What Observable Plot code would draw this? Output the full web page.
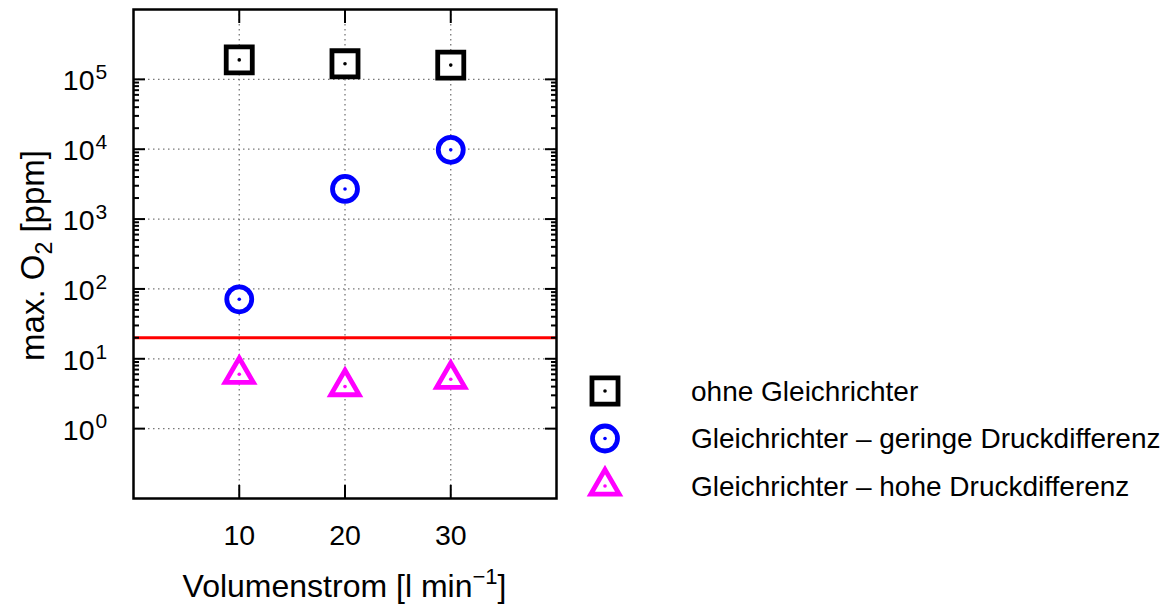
<!DOCTYPE html>
<html><head><meta charset="utf-8">
<script src="https://cdn.jsdelivr.net/npm/d3@7"></script>
<script src="https://cdn.jsdelivr.net/npm/@observablehq/plot@0.6"></script>
<style>
body{margin:0;background:#fff;}
#chart{position:relative;width:1172px;height:608px;}
</style></head><body><div id="chart"></div>
<script>
// ---- data ----
const volumenstrom = [10, 20, 30];
const ohneGleichrichter = [1.9e5, 1.67e5, 1.6e5];
const geringeDruckdifferenz = [71, 2.7e3, 9.8e3];
const hoheDruckdifferenz = [6.0, 4.0, 5.1];
const grenzwert = [20];
const seriesNames = ["ohne Gleichrichter", "Gleichrichter – geringe Druckdifferenz", "Gleichrichter – hohe Druckdifferenz"];
const seriesValues = [ohneGleichrichter, geringeDruckdifferenz, hoheDruckdifferenz];
const seriesColors = ["#000000", "#0000ff", "#ff00ff"];
const seriesSymbols = ["square", "circle", "triangle"];
const xTicks = [10, 20, 30];
const yTickExponents = [0, 1, 2, 3, 4, 5];
const yMinorMantissas = [2, 3, 4, 5, 6, 7, 8, 9];
const xTitle = ["Volumenstrom [l min", "−1", "]"];
const yTitle = ["max. O", "2", " [ppm]"];

// ---- derived tables ----
const rows = seriesNames.flatMap((name, i) =>
  volumenstrom.map((v, j) => ({series: name, x: v, y: seriesValues[i][j]})));
const yMajor = yTickExponents.map(e => 10 ** e);
const yMinor = yTickExponents.slice(0, -1).flatMap(e => yMinorMantissas.map(m => m * 10 ** e));

const symbolR = {square: 14.7, circle: 12.5, triangle: 10.5};
const font = "Liberation Sans, Arial, Helvetica, sans-serif";

const dotMarks = seriesNames.flatMap((name, i) => {
  const data = rows.filter(r => r.series === name);
  return [
    Plot.dot(data, {x: "x", y: "y", symbol: seriesSymbols[i], r: symbolR[seriesSymbols[i]],
      stroke: seriesColors[i], strokeWidth: 4.8, fill: "white"}),
    Plot.dot(data, {x: "x", y: "y", r: 1.8, fill: seriesColors[i], stroke: "none"})
  ];
});

const plot = Plot.plot({
  width: 1172, height: 608,
  marginLeft: 133, marginTop: 9, marginRight: 616, marginBottom: 110,
  style: {fontFamily: font, background: "white", color: "black"},
  x: {domain: [0, 40], label: null},
  y: {type: "log", domain: [0.1, 1e6], label: null},
  marks: [
    Plot.gridX(xTicks, {stroke: "#777", strokeOpacity: 1, strokeDasharray: "1.5,3.5", strokeWidth: 1.3}),
    Plot.gridY(yMajor, {stroke: "#777", strokeOpacity: 1, strokeDasharray: "1.5,3.5", strokeWidth: 1.3}),
    Plot.ruleY(grenzwert, {stroke: "#ff0000", strokeWidth: 3}),
    Plot.axisY(yMajor, {anchor: "left", tickSize: -12, strokeWidth: 2, tickFormat: () => "", label: null}),
    Plot.axisY(yMajor, {anchor: "right", tickSize: -12, strokeWidth: 2, tickFormat: () => "", label: null}),
    Plot.axisY(yMinor, {anchor: "left", tickSize: -6, strokeWidth: 2, tickFormat: () => "", label: null}),
    Plot.axisY(yMinor, {anchor: "right", tickSize: -6, strokeWidth: 2, tickFormat: () => "", label: null}),
    Plot.axisX(xTicks, {anchor: "bottom", tickSize: -13, strokeWidth: 2, tickFormat: () => "", label: null}),
    Plot.axisX(xTicks, {anchor: "top", tickSize: -13, strokeWidth: 2, tickFormat: () => "", label: null}),
    Plot.frame({stroke: "black", strokeWidth: 2.5}),
    ...dotMarks,
    Plot.text(yTickExponents, {y: e => 10 ** e, text: () => "10", frameAnchor: "left",
      textAnchor: "end", dx: -39, dy: 2, fontSize: 28.5, fill: "black"}),
    Plot.text(yTickExponents, {y: e => 10 ** e, text: e => String(e), frameAnchor: "left",
      textAnchor: "start", dx: -38, dy: -7, fontSize: 21, fill: "black"}),
    Plot.text(xTicks, {x: d => d, text: d => String(d), frameAnchor: "bottom",
      dy: 46, fontSize: 28.5, fill: "black"})
  ]
});

document.getElementById("chart").appendChild(plot);

// ---- titles ----
const svg = d3.select(plot);
const xs = plot.scale("x"), ys = plot.scale("y");
const xc = (xs.range[0] + xs.range[1]) / 2;
const yc = (ys.range[0] + ys.range[1]) / 2;

const xt = svg.append("text").attr("x", xc).attr("y", 597)
  .attr("text-anchor", "middle").attr("font-size", 32).attr("font-family", font).attr("fill", "black");
xt.append("tspan").text(xTitle[0]);
xt.append("tspan").attr("dy", -13).attr("font-size", 22).text(xTitle[1]);
xt.append("tspan").attr("dy", 13).text(xTitle[2]);

const yt = svg.append("text").attr("transform", `translate(44,${yc + 2}) rotate(-90)`)
  .attr("text-anchor", "middle").attr("font-size", 33).attr("font-family", font).attr("fill", "black");
yt.append("tspan").text(yTitle[0]);
yt.append("tspan").attr("dy", 8).attr("font-size", 23).text(yTitle[1]);
yt.append("tspan").attr("dy", -8).text(yTitle[2]);

// ---- legend ----
const legendX = 605, legendTextX = 691, legendY0 = 391, legendDY = 47.5;
const symbolTypes = {square: d3.symbolSquare, circle: d3.symbolCircle, triangle: d3.symbolTriangle};
const lg = svg.append("g");
seriesNames.forEach((name, i) => {
  const y = legendY0 + i * legendDY;
  const s = seriesSymbols[i];
  const r = symbolR[s];
  lg.append("path").attr("transform", `translate(${legendX},${y})`)
    .attr("d", d3.symbol(symbolTypes[s], Math.PI * r * r)())
    .attr("fill", "white").attr("stroke", seriesColors[i]).attr("stroke-width", 4.8);
  lg.append("circle").attr("cx", legendX).attr("cy", y).attr("r", 1.8).attr("fill", seriesColors[i]);
  lg.append("text").attr("x", legendTextX).attr("y", y).attr("dy", "0.35em")
    .attr("text-anchor", "start")
    .attr("font-size", 28).attr("font-family", font).attr("fill", "black").text(name);
});
</script></body></html>
